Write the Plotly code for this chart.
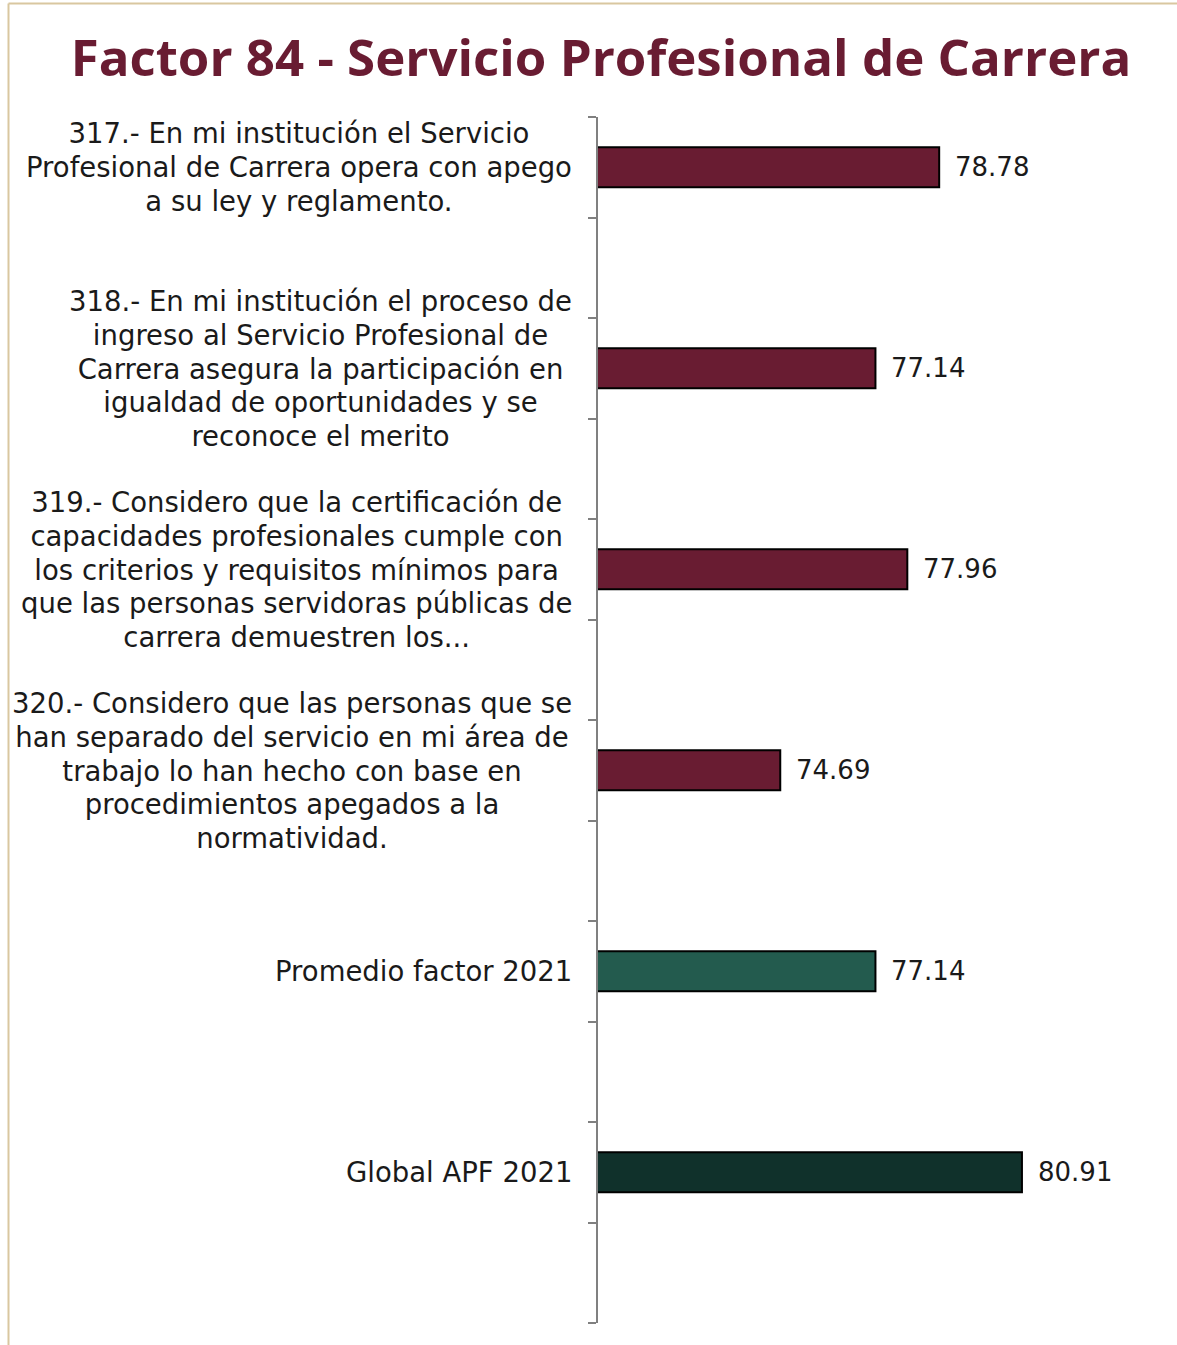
import plotly.graph_objects as go

# Survey items and scores
categories = [
    "317.- En mi institución el Servicio<br>Profesional de Carrera opera con apego<br>a su ley y reglamento.",
    "318.- En mi institución el proceso de<br>ingreso al Servicio Profesional de<br>Carrera asegura la participación en<br>igualdad de oportunidades y se<br>reconoce el merito",
    "319.- Considero que la certificación de<br>capacidades profesionales cumple con<br>los criterios y requisitos mínimos para<br>que las personas servidoras públicas de<br>carrera demuestren los...",
    "320.- Considero que las personas que se<br>han separado del servicio en mi área de<br>trabajo lo han hecho con base en<br>procedimientos apegados a la<br>normatividad.",
    "Promedio factor 2021",
    "Global APF 2021",
]
values = [78.78, 77.14, 77.96, 74.69, 77.14, 80.91]
bar_colors = ["#691C32", "#691C32", "#691C32", "#691C32", "#235B4E", "#10312B"]
title_text = "Factor 84 - Servicio Profesional de Carrera"

FONT = "DejaVu Sans"
TITLE_FONT = "Open Sans"
positions = list(range(len(categories)))

fig = go.Figure()
fig.add_trace(go.Bar(
    x=values,
    y=positions,
    orientation="h",
    width=0.2,
    marker=dict(color=bar_colors, line=dict(color="#000000", width=2)),
    hoverinfo="skip",
))

# value labels to the right of each bar
for p, v in zip(positions, values):
    fig.add_annotation(
        x=v, y=p, xref="x", yref="y",
        text=f"{v:.2f}", showarrow=False,
        xanchor="left", yanchor="middle", xshift=14,
        font=dict(family=FONT, size=26, color="#1a1a1a"),
    )


def label_html(text):
    # larger glyphs inside a base font that keeps the line pitch tight
    lines = text.split("<br>")
    return "<br>".join(f"<span style='font-size:27.5px'>{ln}</span>" for ln in lines)


# category labels, centred lines, right edge next to the axis
for p, c in zip(positions, categories):
    fig.add_annotation(
        x=0, y=p, xref="paper", yref="y",
        text=label_html(c), showarrow=False, align="center",
        xanchor="right", yanchor="middle", xshift=-24,
        font=dict(family=FONT, size=26, color="#1a1a1a"),
    )

# boundary tick marks along the category axis
tick_pos = [i * 0.5 - 0.25 for i in range(13)]

fig.update_layout(
    width=1177, height=1345,
    margin=dict(l=598, r=0, t=117, b=22),
    paper_bgcolor="white", plot_bgcolor="white",
    showlegend=False,
    title=dict(
        text=f"<b>{title_text}</b>",
        x=601 / 1177, xanchor="center", xref="container",
        y=1 - 58 / 1345, yanchor="middle", yref="container",
        font=dict(family=TITLE_FONT, size=51, color="#691C32"),
    ),
    xaxis=dict(range=[70, 84.9], visible=False, showgrid=False, zeroline=False),
    yaxis=dict(
        range=[5.75, -0.25], showgrid=False, zeroline=False,
        showline=True, linecolor="#808080", linewidth=1.5,
        tickmode="array", tickvals=tick_pos, showticklabels=False,
        ticks="outside", ticklen=8, tickcolor="#808080", tickwidth=1.5,
    ),
)

# thin frame along the top and left edges
frame = "#D9C7A0"
fig.add_shape(type="line", xref="paper", yref="paper",
              x0=(8.5 - 598) / 579, x1=(1177 - 598) / 579,
              y0=(1323 - 3.5) / 1206, y1=(1323 - 3.5) / 1206,
              line=dict(color=frame, width=2))
fig.add_shape(type="line", xref="paper", yref="paper",
              x0=(8.5 - 598) / 579, x1=(8.5 - 598) / 579,
              y0=(1323 - 3.5) / 1206, y1=(1323 - 1345) / 1206,
              line=dict(color=frame, width=2))

fig.write_html("out.html")
